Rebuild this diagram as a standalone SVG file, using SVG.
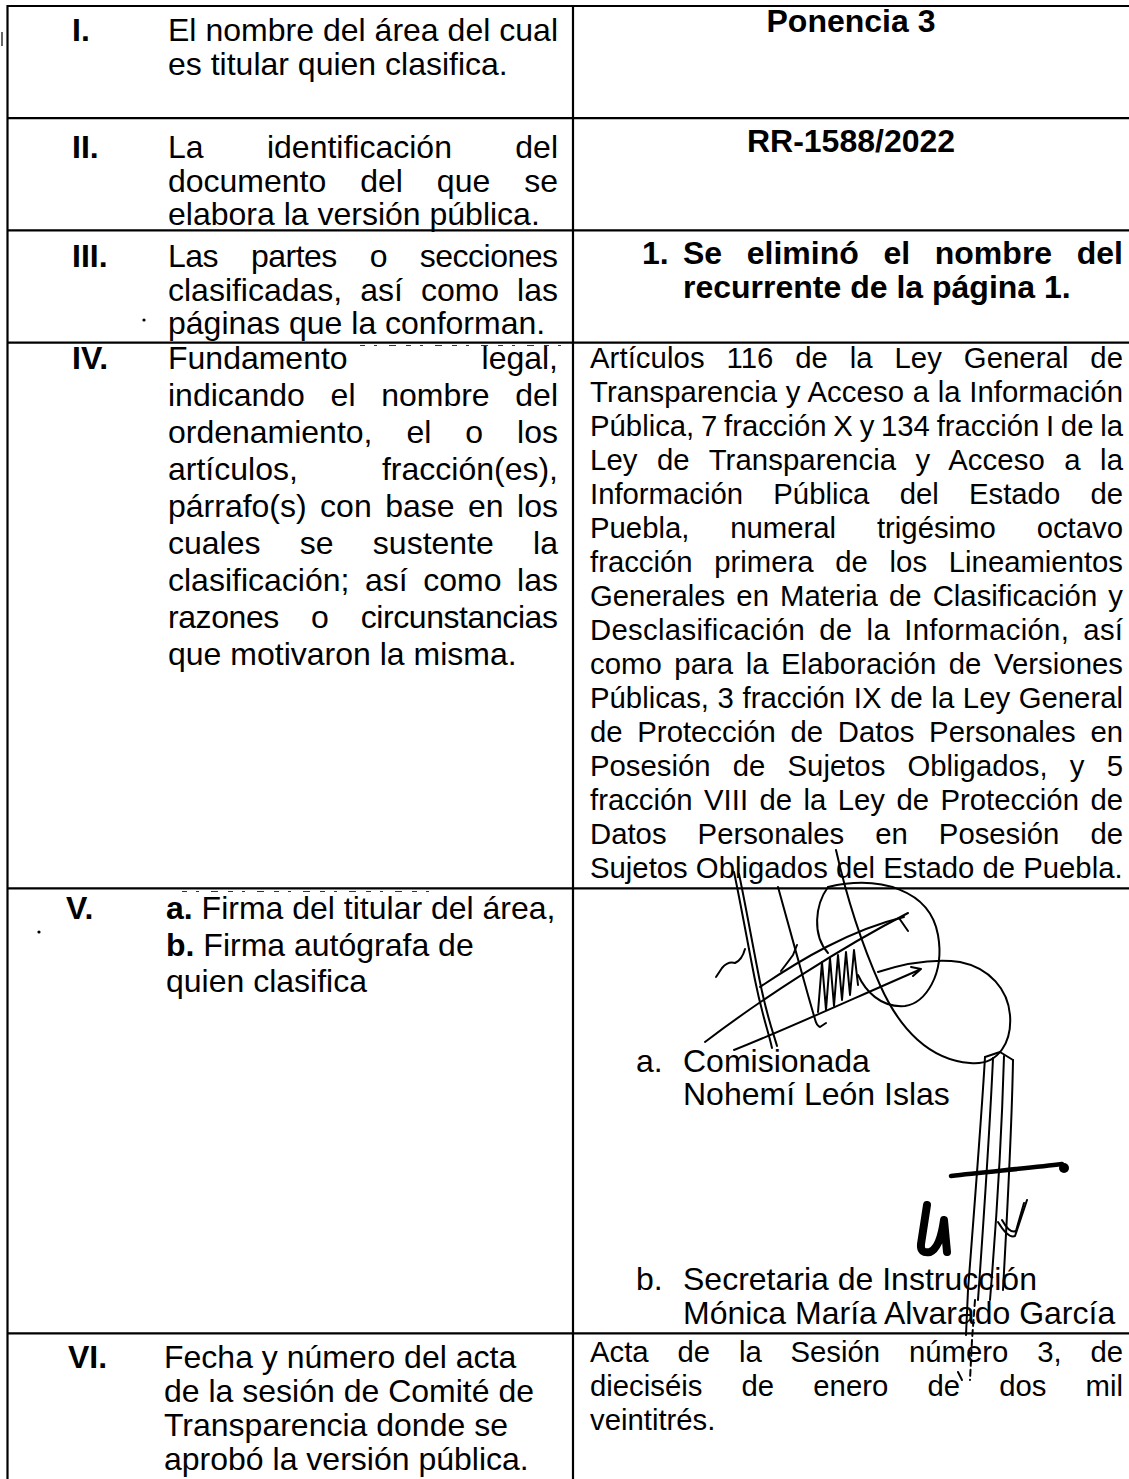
<svg xmlns="http://www.w3.org/2000/svg" width="1129" height="1479" viewBox="0 0 1129 1479">
<style>
.t{font-family:"Liberation Sans",Arial,Helvetica,sans-serif;font-size:32px;fill:#000}
.b{font-weight:bold}
.s{font-size:29.3px}
.grid{stroke:#000;stroke-width:2.2;fill:none}
.ghost{stroke:#333;stroke-width:1;fill:none;stroke-dasharray:5 9 3 12 7 10}
.sig{fill:none;stroke:#000;stroke-width:2;stroke-linecap:round;stroke-linejoin:round}
.sigb{fill:none;stroke:#000;stroke-width:4.5;stroke-linecap:round;stroke-linejoin:round}
</style>
<rect x="0" y="0" width="1129" height="1479" fill="#fff"/>

<g id="grid" class="grid">
  <line x1="7.5" y1="6" x2="1129" y2="6"/>
  <line x1="7.5" y1="5" x2="7.5" y2="1479"/>
  <line x1="573" y1="5" x2="573" y2="1479"/>
  <line x1="7.5" y1="118.2" x2="1129" y2="118.2"/>
  <line x1="7.5" y1="230.4" x2="1129" y2="230.4"/>
  <line x1="7.5" y1="342.7" x2="1129" y2="342.7"/>
  <line x1="7.5" y1="888.3" x2="1129" y2="888.3"/>
  <line x1="7.5" y1="1333.3" x2="1129" y2="1333.3"/>
</g>

<g id="specks" fill="#000">
  <circle cx="144" cy="320" r="1.6"/>
  <circle cx="39" cy="932" r="1.6"/>
  <line x1="2" y1="32" x2="2" y2="46" stroke="#000" stroke-width="1.2"/>
  <line class="ghost" x1="360" y1="345.5" x2="570" y2="345.5"/>
  <line class="ghost" x1="182" y1="891.5" x2="440" y2="891.5"/>
</g>

<g id="row1">
  <text class="t b" x="72" y="41">I.</text>
  <text class="t" x="168" y="41" textLength="390" lengthAdjust="spacing">El nombre del área del cual</text>
  <text class="t" x="168" y="74.5">es titular quien clasifica.</text>
  <text class="t b" x="851" y="32" text-anchor="middle">Ponencia 3</text>
</g>

<g id="row2">
  <text class="t b" x="72" y="158">II.</text>
  <text class="t" x="168" y="158" textLength="390" lengthAdjust="spacing" word-spacing="54.5">La identificación del</text>
  <text class="t" x="168" y="191.5" textLength="390" lengthAdjust="spacing" word-spacing="25.1">documento del que se</text>
  <text class="t" x="168" y="225">elabora la versión pública.</text>
  <text class="t b" x="851" y="152" text-anchor="middle">RR-1588/2022</text>
</g>

<g id="row3">
  <text class="t b" x="72" y="267">III.</text>
  <text class="t" x="168" y="267" textLength="390" lengthAdjust="spacing" word-spacing="24.5">Las partes o secciones</text>
  <text class="t" x="168" y="300.5" textLength="390" lengthAdjust="spacing" word-spacing="9.1">clasificadas, así como las</text>
  <text class="t" x="168" y="334">páginas que la conforman.</text>
  <text class="t b" x="642" y="264">1.</text>
  <text class="t b" x="683" y="264" textLength="440" lengthAdjust="spacing" word-spacing="15.7">Se eliminó el nombre del</text>
  <text class="t b" x="683" y="297.5">recurrente de la página 1.</text>
</g>

<g id="row4">
  <text class="t b" x="72" y="368.5">IV.</text>
  <text class="t" x="168" y="368.5" textLength="390" lengthAdjust="spacing" word-spacing="125">Fundamento legal,</text>
  <text class="t" x="168" y="405.6" textLength="390" lengthAdjust="spacing" word-spacing="16.8">indicando el nombre del</text>
  <text class="t" x="168" y="442.7" textLength="390" lengthAdjust="spacing" word-spacing="25.1">ordenamiento, el o los</text>
  <text class="t" x="168" y="479.8" textLength="390" lengthAdjust="spacing" word-spacing="75.2">artículos, fracción(es),</text>
  <text class="t" x="168" y="516.9" textLength="390" lengthAdjust="spacing" word-spacing="4.6">párrafo(s) con base en los</text>
  <text class="t" x="168" y="554" textLength="390" lengthAdjust="spacing" word-spacing="30.4">cuales se sustente la</text>
  <text class="t" x="168" y="591.1" textLength="390" lengthAdjust="spacing" word-spacing="6.7">clasificación; así como las</text>
  <text class="t" x="168" y="628.2" textLength="390" lengthAdjust="spacing" word-spacing="23.7">razones o circunstancias</text>
  <text class="t" x="168" y="665.3">que motivaron la misma.</text>

  <text class="t s" x="590" y="368.3" textLength="533" lengthAdjust="spacing" word-spacing="13.6">Artículos 116 de la Ley General de</text>
  <text class="t s" x="590" y="402.3" textLength="533" lengthAdjust="spacing" word-spacing="0.4">Transparencia y Acceso a la Información</text>
  <text class="t s" x="590" y="436.3" textLength="533" lengthAdjust="spacing" word-spacing="-1.4">Pública, 7 fracción X y 134 fracción I de la</text>
  <text class="t s" x="590" y="470.3" textLength="533" lengthAdjust="spacing" word-spacing="11.2">Ley de Transparencia y Acceso a la</text>
  <text class="t s" x="590" y="504.3" textLength="533" lengthAdjust="spacing" word-spacing="22.1">Información Pública del Estado de</text>
  <text class="t s" x="590" y="538.3" textLength="533" lengthAdjust="spacing" word-spacing="32.7">Puebla, numeral trigésimo octavo</text>
  <text class="t s" x="590" y="572.3" textLength="533" lengthAdjust="spacing" word-spacing="13.6">fracción primera de los Lineamientos</text>
  <text class="t s" x="590" y="606.3" textLength="533" lengthAdjust="spacing" word-spacing="3">Generales en Materia de Clasificación y</text>
  <text class="t s" x="590" y="640.3" textLength="533" lengthAdjust="spacing" word-spacing="5.7">Desclasificación de la Información, así</text>
  <text class="t s" x="590" y="674.3" textLength="533" lengthAdjust="spacing" word-spacing="4.3">como para la Elaboración de Versiones</text>
  <text class="t s" x="590" y="708.3" textLength="533" lengthAdjust="spacing" word-spacing="0.5">Públicas, 3 fracción IX de la Ley General</text>
  <text class="t s" x="590" y="742.3" textLength="533" lengthAdjust="spacing" word-spacing="6.6">de Protección de Datos Personales en</text>
  <text class="t s" x="590" y="776.3" textLength="533" lengthAdjust="spacing" word-spacing="14.1">Posesión de Sujetos Obligados, y 5</text>
  <text class="t s" x="590" y="810.3" textLength="533" lengthAdjust="spacing" word-spacing="3.3">fracción VIII de la Ley de Protección de</text>
  <text class="t s" x="590" y="844.3" textLength="533" lengthAdjust="spacing" word-spacing="22.9">Datos Personales en Posesión de</text>
  <text class="t s" x="590" y="878.3">Sujetos Obligados del Estado de Puebla.</text>
</g>

<g id="row5">
  <text class="t b" x="66" y="919">V.</text>
  <text class="t" x="166" y="919"><tspan class="b">a.</tspan> Firma del titular del área,</text>
  <text class="t" x="166" y="955.7"><tspan class="b">b.</tspan> Firma autógrafa de</text>
  <text class="t" x="166" y="992.4">quien clasifica</text>

  <text class="t" x="636" y="1071.5">a.</text>
  <text class="t" x="683" y="1071.5">Comisionada</text>
  <text class="t" x="683" y="1105">Nohemí León Islas</text>
  <text class="t" x="636" y="1290">b.</text>
  <text class="t" x="683" y="1290">Secretaria de Instrucción</text>
  <text class="t" x="683" y="1324">Mónica María Alvarado García</text>

  <g id="signature-a">
    <path class="sig" d="M734,872 C740,900 748,945 755,980 S768,1030 772,1048"/>
    <path class="sig" d="M739,874 C745,902 753,947 760,982 S773,1032 777,1046"/>
    <path class="sig" d="M778,887 C786,915 798,960 808,995 S816,1024 820,1027 L826,1023"/>
    <path class="sig" d="M716,977 L722,968 Q728,961 735,963 Q742,960 745,949"/>
    <path class="sig" d="M781,971 Q788,962 793,955 L797,945"/>
    <path class="sig" d="M705,1042 C760,1000 840,948 908,913 M899,918 L908,931"/>
    <path class="sig" d="M760,987 C800,960 850,930 904,917"/>
    <path class="sig" d="M734,1050 C780,1032 850,1000 919,970 M911,967 L921,969 L913,976"/>
    <path class="sig" d="M818,1012 L822,962 L826,1010 L830,958 L834,1006 L838,955 L842,1000 L846,952 L850,995 L854,950 L858,985"/>
    <path class="sig" d="M836,850 C845,890 860,940 880,985 C900,1030 930,1060 970,1063 C1000,1066 1012,1040 1010,1015 C1008,990 990,968 960,962 C930,958 900,965 878,972"/>
    <path class="sig" d="M828,887 C880,875 930,890 938,935 C945,975 925,1003 905,1006 C880,1008 865,990 858,975"/>
    <path class="sig" d="M828,887 C815,905 812,935 828,953"/>
  </g>

  <g id="signature-b">
    <path class="sig" d="M985,1057 C982,1110 975,1200 968,1290 L966,1335"/>
    <path class="sig" d="M993,1058 C990,1125 984,1215 978,1300"/>
    <path class="sig" d="M1004,1056 C1002,1125 997,1215 990,1300"/>
    <path class="sig" d="M1013,1060 C1012,1120 1008,1200 1003,1290"/>
    <path class="sig" d="M985,1057 L1000,1052 L1013,1060"/>
    <path class="sig" stroke-dasharray="6 4" d="M975,1300 L972,1340 L970,1380"/>
    <path class="sig" d="M958,1372 L962,1380"/>
    <path class="sigb" d="M951,1176 C985,1172 1030,1168 1062,1164"/>
    <circle cx="1064" cy="1168" r="5" fill="#000"/>
    <path d="M927,1205 L921,1244 Q920,1254 930,1252 Q940,1248 944,1220 L947,1252" fill="none" stroke="#000" stroke-width="8" stroke-linecap="round" stroke-linejoin="round"/>
    <path class="sig" d="M998,1222 C1004,1232 1010,1238 1015,1236 L1027,1200"/>
    <path class="sig" d="M1002,1220 C1007,1229 1012,1233 1016,1231 L1024,1203"/>
  </g>
</g>

<g id="row6">
  <text class="t b" x="68" y="1368">VI.</text>
  <text class="t" x="164" y="1368">Fecha y número del acta</text>
  <text class="t" x="164" y="1402">de la sesión de Comité de</text>
  <text class="t" x="164" y="1436">Transparencia donde se</text>
  <text class="t" x="164" y="1470">aprobó la versión pública.</text>

  <text class="t s" x="590" y="1362" textLength="533" lengthAdjust="spacing" word-spacing="20.7">Acta de la Sesión número 3, de</text>
  <text class="t s" x="590" y="1396" textLength="533" lengthAdjust="spacing" word-spacing="31">dieciséis de enero de dos mil</text>
  <text class="t s" x="590" y="1430">veintitrés.</text>
</g>
</svg>
